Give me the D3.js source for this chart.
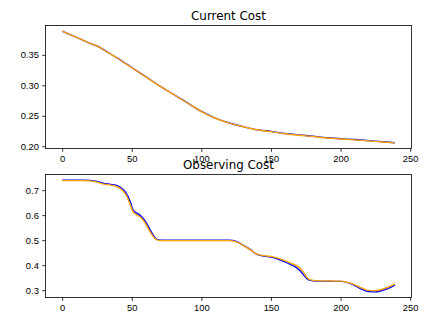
<!DOCTYPE html>
<html>
<head>
<meta charset="utf-8">
<script src="https://cdn.jsdelivr.net/npm/d3@7"></script>
<style>
  body { margin: 0; background: #fff; }
  svg { display: block; font-family: "DejaVu Sans", sans-serif; }
  .tick text { font-size: 9.4px; fill: #000; }
  .tick line { stroke: #000; stroke-width: 0.8; }
  .title { font-size: 11.9px; text-anchor: middle; fill: #000; }
</style>
</head>
<body>
<script>
// optimisation steps at which the costs were sampled
const currentSteps = [0, 10, 20, 28, 30, 40, 50, 60, 70, 80, 90, 100, 110, 120, 130, 140, 150, 160, 170, 180, 190, 200, 210, 220, 230, 239];
const currentBlue = [0.389, 0.379, 0.369, 0.3612, 0.3582, 0.3442, 0.3292, 0.3142, 0.2992, 0.2852, 0.2712, 0.2572, 0.2462, 0.2382, 0.2322, 0.2272, 0.2244, 0.2210, 0.2186, 0.2165, 0.2140, 0.2124, 0.2110, 0.2092, 0.2074, 0.2058];
const currentOrange = [0.389, 0.379, 0.369, 0.361, 0.358, 0.344, 0.329, 0.314, 0.299, 0.285, 0.271, 0.257, 0.246, 0.238, 0.232, 0.227, 0.2240, 0.2205, 0.218, 0.216, 0.2135, 0.212, 0.2105, 0.2088, 0.207, 0.2055];

const observingSteps = [0, 5, 10, 15, 20, 25, 30, 35, 40, 43, 46, 49, 51, 54, 57, 60, 63, 66, 69, 75, 90, 105, 120, 125, 130, 135, 140, 145, 150, 155, 160, 165, 170, 173, 176, 179, 185, 190, 195, 200, 205, 210, 215, 220, 225, 230, 235, 239];
const observingBlue = [0.740, 0.740, 0.740, 0.740, 0.739, 0.735, 0.727, 0.723, 0.717, 0.706, 0.688, 0.652, 0.620, 0.607, 0.594, 0.573, 0.543, 0.515, 0.501, 0.500, 0.500, 0.500, 0.500, 0.495, 0.480, 0.463, 0.443, 0.436, 0.432, 0.424, 0.413, 0.400, 0.383, 0.364, 0.345, 0.338, 0.336, 0.336, 0.335, 0.335, 0.330, 0.319, 0.304, 0.294, 0.293, 0.299, 0.309, 0.320];
const observingOrange = [0.738, 0.738, 0.738, 0.738, 0.737, 0.732, 0.724, 0.720, 0.712, 0.700, 0.680, 0.640, 0.612, 0.600, 0.588, 0.565, 0.535, 0.510, 0.499, 0.498, 0.498, 0.498, 0.498, 0.493, 0.479, 0.462, 0.444, 0.438, 0.435, 0.428, 0.418, 0.406, 0.392, 0.375, 0.350, 0.340, 0.337, 0.337, 0.336, 0.336, 0.331, 0.322, 0.309, 0.299, 0.298, 0.304, 0.314, 0.325];

const xTicks = [0, 50, 100, 150, 200, 250];
const currentTicks = [0.20, 0.25, 0.30, 0.35];
const observingTicks = [0.3, 0.4, 0.5, 0.6, 0.7];

const W = 431, H = 321;
const svg = d3.select("body").append("svg").attr("width", W).attr("height", H);

function panel(opts) {
  const { top, bottom, left, right, title, steps, blue, orange, yTicks, yFmt } = opts;

  // matplotlib-style 5% margins around the data
  const xs = d3.extent(steps);
  const xPad = (xs[1] - xs[0]) * 0.05;
  const x = d3.scaleLinear().domain([xs[0] - xPad, xs[1] + xPad]).range([left, right]);

  const ys = d3.extent(blue.concat(orange));
  const yPad = (ys[1] - ys[0]) * 0.05;
  const y = d3.scaleLinear().domain([ys[0] - yPad, ys[1] + yPad]).range([bottom, top]);

  const g = svg.append("g");

  const line = vals => d3.line()
    .x((d, i) => x(steps[i]))
    .y(d => y(d))
    .curve(d3.curveMonotoneX)(vals);

  g.append("path").attr("d", line(blue))
    .attr("fill", "none").attr("stroke", "#0000ff").attr("stroke-width", 1.4);
  g.append("path").attr("d", line(orange))
    .attr("fill", "none").attr("stroke", "#ffa500").attr("stroke-width", 1.4);

  const xAxis = g.append("g")
    .attr("transform", `translate(0,${bottom})`)
    .call(d3.axisBottom(x).tickValues(xTicks).tickFormat(d3.format("d")).tickSize(3.3).tickPadding(3.3));
  const yAxis = g.append("g")
    .attr("transform", `translate(${left},0)`)
    .call(d3.axisLeft(y).tickValues(yTicks).tickFormat(d3.format(yFmt)).tickSize(3.3).tickPadding(3.3));
  [xAxis, yAxis].forEach(a => {
    a.select(".domain").remove();
    a.selectAll("text").attr("font-family", null).attr("font-size", null);
  });

  // frame
  g.append("rect")
    .attr("x", left).attr("y", top)
    .attr("width", right - left).attr("height", bottom - top)
    .attr("fill", "none").attr("stroke", "#000").attr("stroke-width", 0.8);

  svg.append("text").attr("class", "title")
    .attr("x", (left + right) / 2).attr("y", top - 6)
    .text(title);
}

panel({
  top: 25.5, bottom: 148.5, left: 45.5, right: 411.5,
  title: "Current Cost", steps: currentSteps, blue: currentBlue, orange: currentOrange,
  yTicks: currentTicks, yFmt: ".2f"
});

panel({
  top: 174.5, bottom: 297.5, left: 45.5, right: 411.5,
  title: "Observing Cost", steps: observingSteps, blue: observingBlue, orange: observingOrange,
  yTicks: observingTicks, yFmt: ".1f"
});
</script>
</body>
</html>
